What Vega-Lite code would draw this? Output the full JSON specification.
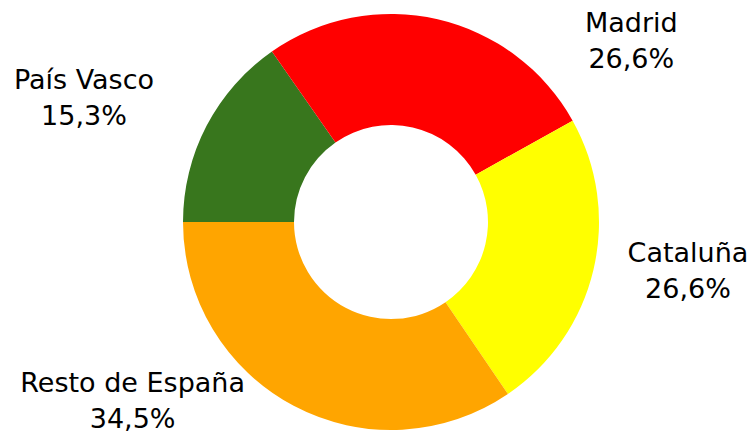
{
  "$schema": "https://vega.github.io/schema/vega-lite/v6.json",
  "width": 730,
  "height": 426,
  "autosize": "none",
  "padding": {"left": 26, "top": 9, "right": 0, "bottom": 0},
  "background": "white",
  "view": {"stroke": null},
  "data": {
    "values": [
      {"region": "País Vasco", "valor": 15.3, "etiqueta": "15,3%", "orden": 1},
      {"region": "Madrid", "valor": 26.6, "etiqueta": "26,6%", "orden": 2},
      {"region": "Cataluña", "valor": 23.6, "etiqueta": "26,6%", "orden": 3},
      {"region": "Resto de España", "valor": 34.5, "etiqueta": "34,5%", "orden": 4}
    ]
  },
  "transform": [
    {"calculate": "datum.region + '\\n' + datum.etiqueta", "as": "texto"}
  ],
  "encoding": {
    "theta": {
      "field": "valor",
      "type": "quantitative",
      "stack": true,
      "scale": {"range": [-1.5708, 4.7124]}
    },
    "order": {"field": "orden", "type": "quantitative"}
  },
  "layer": [
    {
      "mark": {"type": "arc", "outerRadius": 208, "innerRadius": 97, "stroke": null},
      "encoding": {
        "color": {
          "field": "region",
          "type": "nominal",
          "scale": {
            "domain": ["País Vasco", "Madrid", "Cataluña", "Resto de España"],
            "range": ["#38761D", "#FF0000", "#FFFF00", "#FFA500"]
          },
          "legend": null
        }
      }
    },
    {
      "mark": {
        "type": "text",
        "radius": 300,
        "font": "DejaVu Sans",
        "fontSize": 27,
        "lineBreak": "\n",
        "lineHeight": 36,
        "align": "center",
        "baseline": "middle",
        "color": "black",
        "dx": {"expr": "datum.region === 'Madrid' ? 173 : datum.region === 'Resto de España' ? -118 : datum.region === 'País Vasco' ? -41 : 5"},
        "dy": {"expr": "datum.region === 'Madrid' ? 94 : datum.region === 'Resto de España' ? -103 : datum.region === 'País Vasco' ? -2 : -37"}
      },
      "encoding": {
        "text": {"field": "texto", "type": "nominal"},
        "detail": {"field": "region", "type": "nominal"}
      }
    }
  ]
}
